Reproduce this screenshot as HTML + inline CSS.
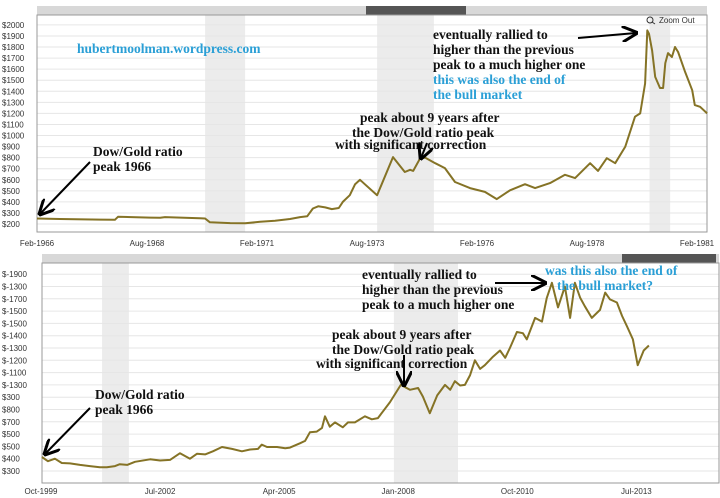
<!DOCTYPE html>
<html><head><meta charset="utf-8"><style>
body{margin:0;background:#fff;width:720px;height:498px;overflow:hidden}
svg{display:block}
.t{font-family:"Liberation Serif",serif;font-weight:bold;font-size:13.5px;fill:#111}
.b{fill:#2a9fd6}
.ax{font-family:"Liberation Sans",sans-serif;font-size:8px;fill:#333}
</style></head><body>
<svg id="c" width="720" height="498">
<defs><marker id="ah" markerWidth="8" markerHeight="8" refX="7" refY="4" orient="auto"><path d="M0,0 L8,4 L0,8" fill="none" stroke="#000" stroke-width="1.5"/></marker></defs>
<g id="top"></g>
<g id="bot"></g>
<g>
<text class="t b" x="77" y="53">hubertmoolman.wordpress.com</text>
<text class="t" x="93" y="156">Dow/Gold ratio</text>
<text class="t" x="93" y="171">peak 1966</text>
<line x1="90" y1="162" x2="40" y2="214" stroke="#000" stroke-width="2" marker-end="url(#ah)"/>
<text class="t" x="360" y="122">peak about 9 years after</text>
<text class="t" x="352" y="137">the Dow/Gold ratio peak</text>
<text class="t" x="335" y="149">with significant correction</text>
<line x1="427" y1="143" x2="421" y2="158" stroke="#000" stroke-width="2" marker-end="url(#ah)"/>
<text class="t" x="433" y="39">eventually rallied to</text>
<text class="t" x="433" y="54">higher than the previous</text>
<text class="t" x="433" y="69">peak to a much higher one</text>
<text class="t b" x="433" y="84">this was also the end of</text>
<text class="t b" x="433" y="99">the bull market</text>
<line x1="578" y1="38" x2="636" y2="33" stroke="#000" stroke-width="2" marker-end="url(#ah)"/>
<g><circle cx="650" cy="20" r="3" fill="none" stroke="#333"/><line x1="652" y1="22" x2="655" y2="24" stroke="#333"/><text class="ax" x="659" y="23" font-size="7">Zoom Out</text></g>
<text class="t" x="95" y="399">Dow/Gold ratio</text>
<text class="t" x="95" y="414">peak 1966</text>
<line x1="90" y1="408" x2="45" y2="454" stroke="#000" stroke-width="2" marker-end="url(#ah)"/>
<text class="t" x="332" y="339">peak about 9 years after</text>
<text class="t" x="332" y="354">the Dow/Gold ratio peak</text>
<text class="t" x="316" y="368">with significant correction</text>
<line x1="404" y1="355" x2="404" y2="385" stroke="#000" stroke-width="2" marker-end="url(#ah)"/>
<text class="t" x="362" y="279">eventually rallied to</text>
<text class="t" x="362" y="294">higher than the previous</text>
<text class="t" x="362" y="309">peak to a much higher one</text>
<line x1="495" y1="283" x2="545" y2="283" stroke="#000" stroke-width="2" marker-end="url(#ah)"/>
<text class="t b" x="545" y="275">was this also the end of</text>
<text class="t b" x="557" y="290">the bull market?</text>
</g>
</svg>
<script>
const topYears=[1966.08,1966.60,1967.51,1967.85,1967.92,1968.65,1968.88,1968.99,1969.78,1969.90,1970.01,1970.47,1970.81,1971.15,1971.49,1971.83,1972.06,1972.22,1972.35,1972.47,1972.63,1972.78,1972.94,1973.03,1973.19,1973.31,1973.42,1973.53,1973.81,1974.17,1974.44,1974.56,1974.63,1974.79,1974.90,1975.13,1975.35,1975.58,1975.92,1976.26,1976.53,1976.83,1977.17,1977.40,1977.74,1978.08,1978.31,1978.65,1978.83,1979.03,1979.22,1979.45,1979.67,1979.79,1979.90,1979.95,1979.99,1980.06,1980.13,1980.24,1980.31,1980.36,1980.42,1980.51,1980.58,1980.65,1980.81,1980.97,1981.03,1981.15,1981.31];
const topValues=[250,245,240,238,265,258,256,262,252,250,215,208,206,220,230,245,262,270,340,360,350,335,345,400,460,560,600,560,460,805,670,690,680,795,800,750,705,580,525,490,425,505,560,525,570,645,615,750,680,795,750,900,1170,1200,1470,1950,1920,1770,1530,1430,1430,1655,1745,1710,1800,1755,1575,1410,1275,1260,1200];
const topTicks=[2000,1900,1800,1700,1600,1500,1400,1300,1200,1100,1000,900,800,700,600,500,400,300,200];
const topXLabels=["Feb-1966","Aug-1968","Feb-1971","Aug-1973","Feb-1976","Aug-1978","Feb-1981"];
const topXYears=[1966.08,1968.58,1971.08,1973.58,1976.08,1978.58,1981.08];
const topBands=[[1969.90,1970.81],[1973.81,1975.10],[1980.0,1980.47]];

const botYears=[1999.77,1999.91,2000.07,2000.23,2000.42,2000.65,2000.88,2001.11,2001.27,2001.46,2001.57,2001.74,2001.92,2002.27,2002.50,2002.73,2002.96,2003.19,2003.35,2003.54,2003.72,2003.93,2004.16,2004.39,2004.58,2004.76,2004.85,2004.97,2005.20,2005.39,2005.50,2005.73,2005.85,2005.96,2006.12,2006.24,2006.31,2006.42,2006.54,2006.72,2006.84,2007.00,2007.23,2007.39,2007.53,2007.81,2008.06,2008.27,2008.46,2008.57,2008.73,2008.90,2009.08,2009.20,2009.31,2009.43,2009.54,2009.66,2009.77,2009.89,2010.00,2010.19,2010.35,2010.47,2010.58,2010.74,2010.88,2010.97,2011.16,2011.32,2011.43,2011.55,2011.69,2011.85,2011.97,2012.08,2012.20,2012.31,2012.47,2012.66,2012.78,2012.89,2013.05,2013.17,2013.28,2013.42,2013.53,2013.67,2013.79];
const botValues=[414,380,400,365,362,350,340,330,330,340,355,350,375,395,385,390,445,400,440,435,460,495,480,460,475,480,515,495,495,485,490,525,545,615,620,650,745,660,695,655,695,695,745,720,730,860,1000,960,975,905,770,915,1000,960,1030,995,1000,1080,1200,1130,1160,1230,1280,1220,1300,1430,1420,1370,1545,1515,1705,1830,1630,1800,1545,1830,1710,1640,1545,1610,1750,1695,1670,1560,1480,1370,1160,1280,1320];
const botTicks=[1900,1800,1700,1600,1500,1400,1300,1200,1100,1000,900,800,700,600,500,400,300];
const botTickLabels=["$-1900","$-1300","$-1700","$-1500","$-1500","$-1400","$-1300","$-1200","$-1100","$-1300","$300","$800","$700","$500","$500","$400","$300"];
const botXLabels=["Oct-1999","Jul-2002","Apr-2005","Jan-2008","Oct-2010","Jul-2013"];
const botXYears=[1999.75,2002.5,2005.25,2008.0,2010.75,2013.5];
const botBands=[[2001.16,2001.78],[2007.9,2009.38]];

const NS="http://www.w3.org/2000/svg";
function mk(p,tag,a){const e=document.createElementNS(NS,tag);for(const k in a)e.setAttribute(k,a[k]);p.appendChild(e);return e;}
function draw(g,cfg){
  const {L,R,T,B,x0,y0,xs,vMin,vRef,ys,years,values,ticks,tickLabels,xLabels,xYears,bands,thumb,ly}=cfg;
  const X=t=>x0+(t-cfg.t0)*xs, Y=v=>vRef-(v-vMin)*ys;
  let e=mk(g,'rect',{x:L,y:T-9,width:R-L,height:9,fill:'#d8d8d8'});
  
  
  e=mk(g,'rect',{x:thumb[0],y:T-9,width:thumb[1]-thumb[0],height:9,fill:'#555'});
  
  
  bands.forEach(b=>{const r=mk(g,'rect',{x:X(b[0]),y:T,width:X(b[1])-X(b[0]),height:B-T,fill:'#ececec'});
    
    });
  ticks.forEach((v,i)=>{const y=Y(v);
    const l=mk(g,'line',{x1:L,x2:R,y1:y,y2:y,stroke:'#e6e6e6','stroke-width':1});
    
    
    const t=mk(g,'text',{x:2,y:y+3,class:'ax'});t.textContent=tickLabels?tickLabels[i]:'$'+v;
    
    });
  xLabels.forEach((s,i)=>{let x=X(xYears[i]);if(x-22<0)x=22;if(x+22>720)x=697;
    const t=mk(g,'text',{x:x,y:ly,class:'ax','text-anchor':'middle'});t.textContent=s;
    
    });
  const fr=mk(g,'rect',{x:L,y:T,width:R-L,height:B-T,fill:'none',stroke:'#999','stroke-width':1});
  
  
  const d=years.map((t,i)=>(i?'L':'M')+X(t).toFixed(1)+','+Y(values[i]).toFixed(1)).join('');
  const p=mk(g,'path',{d:d,fill:'none',stroke:'#857326','stroke-width':2,'stroke-linejoin':'round'});
  
  
}
draw(document.getElementById('top'),{L:37,R:707,T:15,B:232,x0:37,t0:1966.08,xs:44,vMin:200,vRef:224,ys:0.1106,years:topYears,values:topValues,ticks:topTicks,xLabels:topXLabels,xYears:topXYears,bands:topBands,thumb:[366,466],ly:246});
draw(document.getElementById('bot'),{L:42,R:719,T:263,B:483,x0:41,t0:1999.75,xs:43.3,vMin:300,vRef:471,ys:0.123,years:botYears,values:botValues,ticks:botTicks,tickLabels:botTickLabels,xLabels:botXLabels,xYears:botXYears,bands:botBands,thumb:[622,716],ly:494});
</script>
</body></html>
